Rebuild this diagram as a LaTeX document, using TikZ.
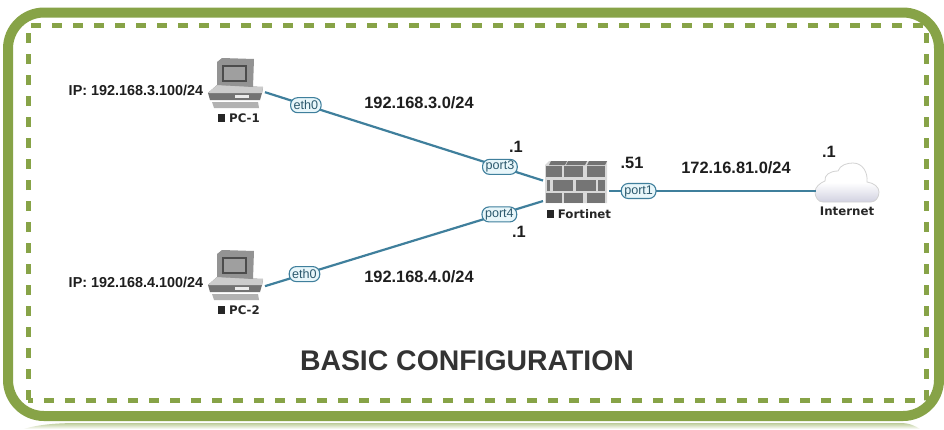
\documentclass[tikz,border=0pt]{standalone}
\usepackage{fontspec}
\setmainfont{Liberation Sans}
\newfontfamily\devfont{DejaVu Sans}
\definecolor{framegreen}{HTML}{87A347}
\definecolor{linkblue}{HTML}{3F7F9C}
\definecolor{portfill}{HTML}{E8F6FA}
\definecolor{brickgray}{HTML}{757575}
\definecolor{inktext}{HTML}{1E1E1E}
\tikzset{
    iconbox/.style={inner sep=0pt,outer sep=0pt},
    lanlink/.style={draw=linkblue,line width=2.2pt},
    wanlink/.style={draw=linkblue,line width=2.6pt},
    portlabel/.style={draw=linkblue,line width=1.1pt,fill=portfill,rounded corners=7pt,inner ysep=0pt,inner xsep=3pt,
        minimum height=15pt,font=\fontsize{12.6}{12}\selectfont,text=linkblue!70!black},
    netlabel/.style={inner sep=0pt,text=inktext,font=\fontsize{16.4}{16}\selectfont\bfseries},
    iplabel/.style={inner sep=0pt,text=inktext,font=\fontsize{14.4}{15}\selectfont\bfseries},
    devlabel/.style={inner sep=0pt,text=black!85,font=\fontsize{11.8}{12}\selectfont\devfont\bfseries},
    pcicon/.pic={
        % foot and base
        \fill[gray!60] (-24,17) -- (22,17) -- (23,23) -- (-22,23) -- cycle;
        \fill[gray!90!black] (-28,8) -- (-19,0) -- (27,2) -- (26,8) -- (24,15) -- (-26,15) -- cycle;
        \fill[gray!40] (-28,8) -- (-19,0) -- (27,2) -- (26,8) -- cycle;
        \fill[gray!15] (-1,10) -- (13,10) -- (13,13) -- (-1,13) -- cycle;
        % monitor
        \fill[gray!85] (-19,-23) -- (-14,-27) -- (18,-26) -- (17,2) -- (-19,0) -- cycle;
        \fill[black!70] (-14,-20) rectangle (11,-3);
        \fill[gray!75] (-12,-18) rectangle (9,-5);
    },
    fwicon/.pic={
        \fill[gray!30] (-31,-17) -- (-27,-21) -- (31,-21) -- (31,21) -- (-31,21) -- cycle;
        \foreach \xa/\xb in {-27/-11,-10/9,11/29}
            \fill[gray!90!black] (\xa,-17) -- (\xa+2,-21) -- (\xb+2,-21) -- (\xb,-17) -- cycle;
        \foreach \xa/\xb in {-30/-14,-12/7,11/29}{
            \fill[brickgray] (\xa,-16) rectangle (\xb,-5);
            \fill[brickgray] (\xa,11) rectangle (\xb,21);
        }
        \foreach \xa/\xb in {-29/-26,-23/-3,0/20,22/29}
            \fill[brickgray] (\xa,-2) rectangle (\xb,9);
    },
    cloudicon/.pic={
        \shade[draw=gray!35,line width=0.8pt,top color=white,bottom color=blue!20!gray!30,middle color=white]
            (-24,19) .. controls (-29,19) and (-32,14) .. (-32,9)
            .. controls (-32,4) and (-27,0) .. (-22,-2)
            .. controls (-23,-8) and (-17,-12) .. (-9,-12)
            .. controls (-7,-18) and (0,-20) .. (6,-20)
            .. controls (16,-20) and (21,-10) .. (20,-1)
            .. controls (27,0) and (32,4) .. (32,9)
            .. controls (32,15) and (28,19) .. (24,19) -- cycle;
    },
}
\begin{document}
\begin{tikzpicture}[x=1pt,y=-1pt]
    \useasboundingbox (0,0) rectangle (944,429);
    \fill[white] (0,0) rectangle (944,429);

    % frame
    \shade[top color=framegreen!55,bottom color=white] (24,429) .. controls (40,424) and (60,423) .. (80,423) -- (900,423) .. controls (910,423) and (915,426) .. (920,429) -- cycle;
    \draw[framegreen,line width=10pt,rounded corners=36pt] (8,12.5) rectangle (939,416);
    \draw[framegreen,line width=5pt,dash pattern=on 10pt off 11pt] (28,400) -- (28,25) -- (926,25) -- (926,400) -- cycle;

    % devices
    \node[iconbox,minimum width=58pt,minimum height=40pt] (pc1) at (236,83) {};
    \node[iconbox,minimum width=58pt,minimum height=40pt] (pc2) at (236,295) {};
    \node[iconbox,minimum width=66pt,minimum height=60pt] (fw) at (576,191) {};
    \node[iconbox,minimum width=64pt,minimum height=40pt] (cloud) at (848,191) {};

    \pic at (236,85) {pcicon};
    \pic at (236,277) {pcicon};
    \pic at (576,182) {fwicon};
    \pic at (847,183) {cloudicon};

    % links
    \draw[lanlink] (pc1) -- (fw)
        node[portlabel,pos=.147] (eth1) {eth0}
        node[portlabel,pos=.845] (port3) {port3};
    \draw[lanlink] (pc2) -- (fw)
        node[portlabel,pos=.142] (eth2) {eth0}
        node[portlabel,pos=.843] (port4) {port4};
    \draw[wanlink] (fw) -- (cloud)
        node[portlabel,pos=.143] (port1) {port1};

    % device names
    \node[devlabel] (pc1name) at (239,118) {\rule{7pt}{8pt}\hspace{4pt}PC-1};
    \node[devlabel] (pc2name) at (239,310) {\rule{7pt}{8pt}\hspace{4pt}PC-2};
    \node[devlabel] (fwname) at (579,214) {\rule{7pt}{8pt}\hspace{4pt}Fortinet};
    \node[devlabel] (cloudname) at (847,211) {Internet};

    % addresses
    \node[iplabel] (ip1) at (136,90) {IP: 192.168.3.100/24};
    \node[iplabel] (ip2) at (136,282) {IP: 192.168.4.100/24};
    \node[netlabel] (net3) at (419,103) {192.168.3.0/24};
    \node[netlabel] (net4) at (419,277) {192.168.4.0/24};
    \node[netlabel] (net81) at (736,168) {172.16.81.0/24};
    \node[netlabel] (dot3) at (516,147) {.1};
    \node[netlabel] (dot4) at (519,232) {.1};
    \node[netlabel] (dot51) at (632,163) {.51};
    \node[netlabel] (dotnet) at (829,152) {.1};

    \node[inner sep=0pt,text=black!80,font=\fontsize{28.4}{28}\selectfont\bfseries] (title) at (467,361) {BASIC CONFIGURATION};
\end{tikzpicture}
\end{document}
